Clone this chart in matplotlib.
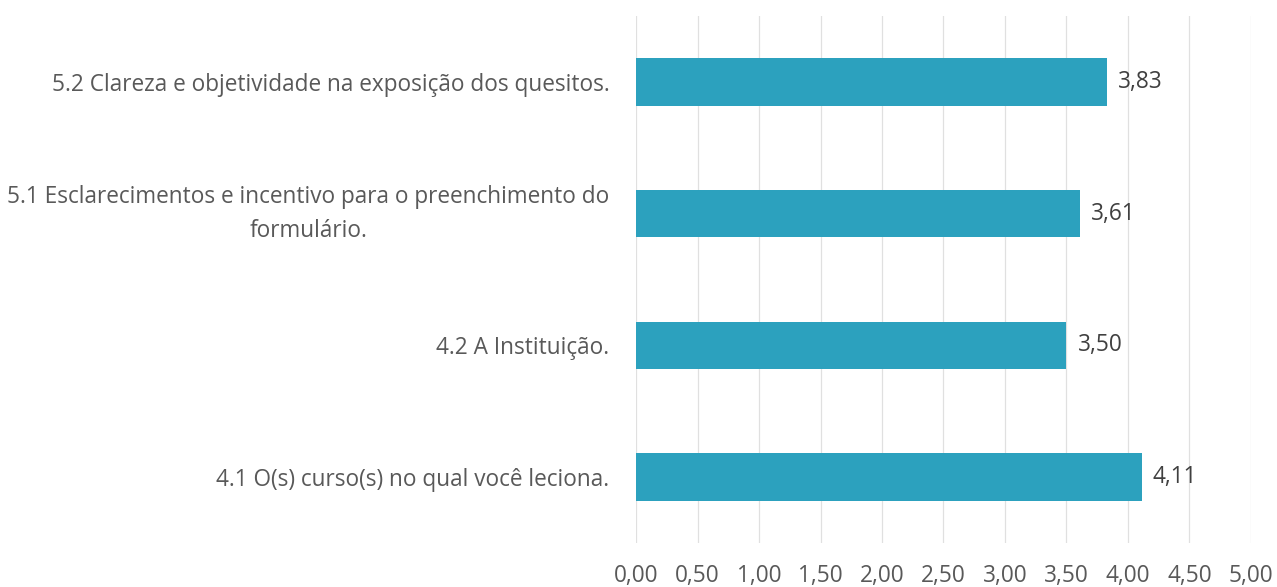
import matplotlib
matplotlib.use("Agg")
import matplotlib.pyplot as plt

# === Données ===
categorias = [
    "4.1 O(s) curso(s) no qual você leciona.",
    "4.2 A Instituição.",
    "5.1 Esclarecimentos e incentivo para o preenchimento do\nformulário.",
    "5.2 Clareza e objetividade na exposição dos quesitos.",
]
medias = [4.11, 3.50, 3.61, 3.83]
ticks_x = [0.0, 0.5, 1.0, 1.5, 2.0, 2.5, 3.0, 3.5, 4.0, 4.5, 5.0]

COR_BARRA = "#2CA1BE"
COR_TEXTO = "#595959"
COR_GRADE = "#E0E0E0"
TAM = 16.3

plt.rcParams["font.family"] = ["Open Sans", "DejaVu Sans"]

fig = plt.figure(figsize=(12.77, 5.87), dpi=100)
ax = fig.add_axes([636 / 1277, 1 - 543 / 587, (1251 - 636) / 1277, (543 - 16) / 587])

pos = list(range(len(categorias)))
barras = ax.barh(pos, medias, height=0.36, color=COR_BARRA, zorder=3)

for b, v in zip(barras, medias):
    ax.annotate(f"{v:.2f}".replace(".", ","), (b.get_width(), b.get_y() + b.get_height() / 2),
                xytext=(8, 0), textcoords="offset points", va="center", ha="left",
                fontsize=TAM, color="#404040")

ax.set_xlim(0, 5)
ax.set_ylim(-0.5, len(categorias) - 0.5)
ax.set_xticks(ticks_x)
ax.set_xticklabels([f"{t:.2f}".replace(".", ",") for t in ticks_x], fontsize=TAM, color=COR_TEXTO)
ax.set_yticks(pos)
ax.set_yticklabels(categorias, fontsize=TAM, color=COR_TEXTO, multialignment="center", linespacing=1.55)
for lab in ax.get_yticklabels():
    if "\n" in lab.get_text():
        lab.set_va("center")
ax.tick_params(axis="both", length=0)
ax.tick_params(axis="y", pad=19)
ax.tick_params(axis="x", pad=15)
ax.grid(axis="x", color=COR_GRADE, linewidth=0.9, zorder=0)
for s in ax.spines.values():
    s.set_visible(False)

fig.savefig("out.png", dpi=100)
